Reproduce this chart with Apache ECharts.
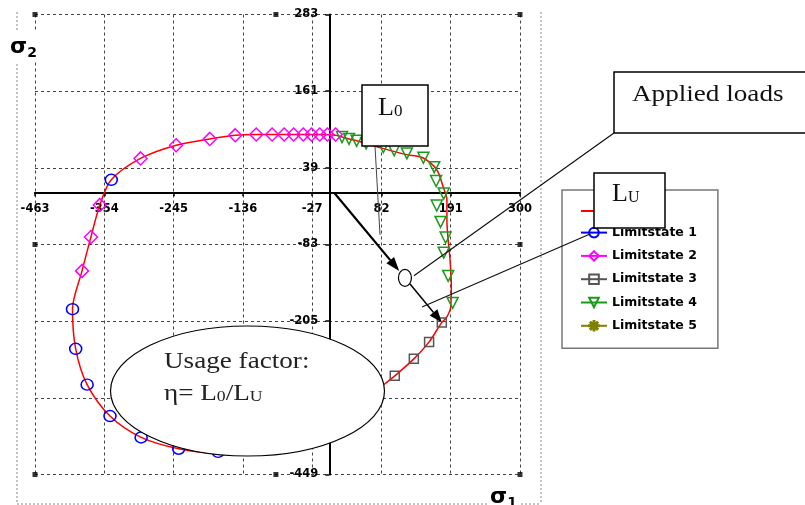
<!DOCTYPE html>
<html>
<head>
<meta charset="utf-8">
<script src="https://cdn.jsdelivr.net/npm/echarts@6/dist/echarts.min.js"></script>
<style>
html, body { margin: 0; padding: 0; background: #fff; }
#chart { width: 805px; height: 505px; }
</style>
</head>
<body>
<div id="chart"></div>
<script>
// axis ticks as printed on the original
var xTicks = [-463, -354, -245, -136, -27, 82, 191, 300];
var yTicks = [-449, -327, -205, -83, 39, 161, 283];

// red limit curve (hidden part under the ellipse estimated)
var curveX = [87, 103, 133, 157, 177, 185, 191, 192, 190, 187, 185, 185, 179, 169, 147, 122, 84, 57, 43, 31, 20, 10, -15, -56, -115, -148, -188, -241, -297, -343, -361, -375, -389, -404, -399, -381, -345, -296, -237, -175, -110, -40, 30, 87];
var curveY = [-305, -292, -265, -238, -207, -198, -182, -150, -108, -76, -44, -12, 9, 36, 55, 60, 70, 78, 82, 85, 88, 91, 92, 92, 92, 91, 85, 75, 54, 20, -20, -71, -125, -186, -249, -306, -356, -390, -408, -415, -410, -385, -345, -305];

// limit state points
var ls1X = [-343, -404, -399, -381, -345, -296, -237, -175];
var ls1Y = [20, -186, -249, -306, -356, -390, -408, -413];
var ls2X = [-361, -375, -389, -297, -241, -188, -148, -115, -90, -71, -56, -41, -28, -15, -3, 10];
var ls2Y = [-20, -71, -125, 54, 75, 85, 91, 92, 92, 92, 92, 92, 92, 92, 92, 92];
var ls3X = [103, 133, 157, 177];
var ls3Y = [-292, -265, -238, -207];
var ls4X = [20, 31, 43, 58, 85, 102, 122, 148, 165, 168, 180, 169, 175, 183, 180, 187, 194];
var ls4Y = [88, 85, 82, 78, 72, 67, 62, 55, 40, 18, -2, -21, -47, -72, -96, -133, -176];
var ls5X = [];
var ls5Y = [];

// little square marks on the plot frame
var frameX = [-463, 300, -463, 300, -463, 300, -84, -84];
var frameY = [283, 283, -449, -449, -83, -83, 283, -449];

// annotation anchors (data space)
var appliedLoad = [119, -136];
var limitPoint = [177, -207];
var loadStart = [8, -1];

var names = ['Limit curve', 'Limitstate 1', 'Limitstate 2', 'Limitstate 3', 'Limitstate 4', 'Limitstate 5'];

function pairs(xs, ys) {
  var out = [];
  for (var i = 0; i < xs.length; i++) out.push([xs[i], ys[i]]);
  return out;
}

var starPath = 'path://M-1,-10L1,-10L1,10L-1,10Z M-10,-1L10,-1L10,1L-10,1Z M-7.8,-6.4L-6.4,-7.8L7.8,6.4L6.4,7.8Z M6.4,-7.8L7.8,-6.4L-6.4,7.8L-7.8,6.4Z';

function markSeries(name, xs, ys, symbol, size, color, rotate) {
  return {
    name: name,
    type: 'line',
    data: pairs(xs, ys),
    symbol: symbol,
    symbolSize: size,
    symbolRotate: rotate || 0,
    color: color,
    lineStyle: { color: color, width: 1.5, opacity: 0 },
    itemStyle: { color: 'rgba(0,0,0,0)', borderColor: color, borderWidth: 1.5 },
    z: 3
  };
}

var chart = echarts.init(document.getElementById('chart'));

var gridBox = { left: 35, top: 14.5, width: 485, height: 460 };
var xMin = xTicks[0], xMax = xTicks[xTicks.length - 1];
var yMin = yTicks[0], yMax = yTicks[yTicks.length - 1];
// axes cross at the origin: shift them from the grid edges onto zero
var xAxisShift = -gridBox.height * (0 - yMin) / (yMax - yMin);
var yAxisShift = -gridBox.width * (0 - xMin) / (xMax - xMin);

var axisFont = { fontFamily: 'DejaVu Sans', fontWeight: 'bold', fontSize: 11.5, color: '#000' };
var gridLine = { show: true, lineStyle: { color: '#444', type: [3, 3], width: 1 } };

var option = {
  animation: false,
  backgroundColor: '#fff',
  grid: { left: gridBox.left, top: gridBox.top, width: gridBox.width, height: gridBox.height, containLabel: false },
  xAxis: {
    type: 'value',
    min: xMin, max: xMax,
    interval: xTicks[1] - xTicks[0],
    offset: xAxisShift,
    axisLine: { onZero: false, lineStyle: { color: '#000', width: 2 } },
    axisTick: { show: true, length: 4, lineStyle: { color: '#000', width: 1.5 } },
    axisLabel: Object.assign({ margin: 11 }, axisFont),
    splitLine: gridLine
  },
  yAxis: {
    type: 'value',
    min: yMin, max: yMax,
    interval: yTicks[1] - yTicks[0],
    offset: yAxisShift,
    axisLine: { onZero: false, lineStyle: { color: '#000', width: 2 } },
    axisTick: { show: true, length: 4, lineStyle: { color: '#000', width: 1.5 } },
    axisLabel: Object.assign({ margin: 11 }, axisFont),
    splitLine: gridLine
  },
  legend: {
    orient: 'vertical',
    left: 562, top: 190,
    padding: [15, 21, 16, 18],
    itemWidth: 26, itemHeight: 12, itemGap: 10.3,
    backgroundColor: '#fff',
    borderColor: '#777', borderWidth: 1.5,
    textStyle: { fontFamily: 'DejaVu Sans', fontWeight: 'bold', fontSize: 12.5, color: '#000' },
    formatter: function (n) { return n === names[0] ? '' : n; },
    data: names.map(function (n, i) {
      return i === 0 ? { name: n, itemStyle: { opacity: 0 } } : { name: n, lineStyle: { opacity: 1 } };
    })
  },
  series: [
    {
      name: names[0],
      type: 'line',
      data: pairs(curveX, curveY),
      smooth: 0.3,
      symbol: 'none',
      color: '#ff0000',
      lineStyle: { color: '#ff0000', width: 1.5 },
      z: 2
    },
    markSeries(names[1], ls1X, ls1Y, 'circle', [12, 11], '#0000ff'),
    markSeries(names[2], ls2X, ls2Y, 'diamond', 13, '#ff00ff'),
    markSeries(names[3], ls3X, ls3Y, 'rect', 9, '#555555'),
    markSeries(names[4], ls4X, ls4Y, 'triangle', 11, '#1a9a1a', 180),
    markSeries(names[5], ls5X, ls5Y, starPath, 12, '#808000'),
    {
      name: 'frame',
      type: 'scatter',
      data: pairs(frameX, frameY),
      symbol: 'rect',
      symbolSize: 5,
      itemStyle: { color: '#000' },
      silent: true,
      z: 4
    }
  ]
};
chart.setOption(option);

function px(v) { return chart.convertToPixel({ gridIndex: 0 }, v); }

function arrow(p0, p1, w, headLen, headW) {
  var dx = p1[0] - p0[0], dy = p1[1] - p0[1];
  var L = Math.sqrt(dx * dx + dy * dy);
  var ux = dx / L, uy = dy / L;
  var bx = p1[0] - ux * headLen, by = p1[1] - uy * headLen;
  return [
    { type: 'line', z: 100, shape: { x1: p0[0], y1: p0[1], x2: bx, y2: by }, style: { stroke: '#000', lineWidth: w } },
    { type: 'polygon', z: 100, shape: { points: [[p1[0], p1[1]], [bx - uy * headW / 2, by + ux * headW / 2], [bx + uy * headW / 2, by - ux * headW / 2]] }, style: { fill: '#000' } }
  ];
}

function along(a, b, d) {
  var dx = b[0] - a[0], dy = b[1] - a[1];
  var L = Math.sqrt(dx * dx + dy * dy);
  return [a[0] + dx / L * d, a[1] + dy / L * d];
}

var pLoad = px(appliedLoad);
var pLimit = px(limitPoint);
var pStart = px(loadStart);

var serif = 'Liberation Serif';
var g = [];

// outer dotted frame
g.push({ type: 'line', z: 90, shape: { x1: 17, y1: 12, x2: 17, y2: 504 }, style: { stroke: '#888', lineWidth: 1, lineDash: [2, 2] } });
g.push({ type: 'line', z: 90, shape: { x1: 541, y1: 12, x2: 541, y2: 504 }, style: { stroke: '#888', lineWidth: 1, lineDash: [2, 2] } });
g.push({ type: 'line', z: 90, shape: { x1: 17, y1: 504, x2: 541, y2: 504 }, style: { stroke: '#888', lineWidth: 1, lineDash: [2, 2] } });

// axis names
g.push({ type: 'text', z: 95, left: 8, top: 32, style: { text: '{s|σ}{n|2}', backgroundColor: '#fff', padding: [2, 2, 2, 2], rich: { s: { fontFamily: 'DejaVu Sans', fontWeight: 'bold', fontSize: 22, fill: '#000' }, n: { fontFamily: 'DejaVu Sans', fontWeight: 'bold', fontSize: 14, fill: '#000', padding: [12, 0, 0, 0] } } } });
g.push({ type: 'text', z: 95, left: 488, top: 484, style: { text: '{s|σ}{n|1}', backgroundColor: '#fff', padding: [0, 2, 0, 2], rich: { s: { fontFamily: 'DejaVu Sans', fontWeight: 'bold', fontSize: 22, fill: '#000' }, n: { fontFamily: 'DejaVu Sans', fontWeight: 'bold', fontSize: 14, fill: '#000', padding: [12, 0, 0, 0] } } } });

// arrows and leader lines
g = g.concat(arrow(pStart, along(pLoad, pStart, 9), 2.2, 14, 10));
g = g.concat(arrow(along(pLoad, pLimit, 8), pLimit, 1.5, 13, 10));
g.push({ type: 'line', z: 100, shape: { x1: 375, y1: 146, x2: 380, y2: 235 }, style: { stroke: '#444', lineWidth: 1 } });
g.push({ type: 'line', z: 100, shape: { x1: 614, y1: 133, x2: pLoad[0] + 9, y2: pLoad[1] - 2 }, style: { stroke: '#111', lineWidth: 1.2 } });
g.push({ type: 'line', z: 100, shape: { x1: 590, y1: 234, x2: 422, y2: 307 }, style: { stroke: '#111', lineWidth: 1.2 } });
g.push({ type: 'ellipse', z: 101, shape: { cx: pLoad[0], cy: pLoad[1], rx: 6.5, ry: 8.5 }, style: { fill: '#fff', stroke: '#000', lineWidth: 1.2 } });

// boxes
g.push({ type: 'rect', z: 102, shape: { x: 362, y: 85, width: 66, height: 61 }, style: { fill: '#fff', stroke: '#000', lineWidth: 1.5 } });
g.push({ type: 'text', z: 103, left: 378, top: 95, style: { text: '{a|L}{b|0}', rich: { a: { fontFamily: serif, fontSize: 26, fill: '#111' }, b: { fontFamily: serif, fontSize: 17, fill: '#111', padding: [8, 0, 0, 0] } } } });

g.push({ type: 'rect', z: 102, shape: { x: 614, y: 72, width: 200, height: 61 }, style: { fill: '#fff', stroke: '#000', lineWidth: 1.5 } });
g.push({ type: 'text', z: 103, left: 632, top: 83, scaleX: 1.18, style: { text: 'Applied loads', fontFamily: serif, fontSize: 23, fill: '#111' } });

g.push({ type: 'rect', z: 102, shape: { x: 594, y: 173, width: 71, height: 55 }, style: { fill: '#fff', stroke: '#000', lineWidth: 1.5 } });
g.push({ type: 'text', z: 103, left: 612, top: 181, style: { text: '{a|L}{b|U}', rich: { a: { fontFamily: serif, fontSize: 26, fill: '#111' }, b: { fontFamily: serif, fontSize: 16, fill: '#111', padding: [8, 0, 0, 0] } } } });

// usage factor ellipse
g.push({ type: 'ellipse', z: 104, shape: { cx: 247.5, cy: 391, rx: 137, ry: 65 }, style: { fill: '#fff', stroke: '#000', lineWidth: 1.2 } });
g.push({ type: 'text', z: 105, left: 164, top: 350, scaleX: 1.18, style: { text: 'Usage factor:', fontFamily: serif, fontSize: 23, fill: '#222' } });
g.push({ type: 'text', z: 105, left: 164, top: 382, scaleX: 1.18, style: { text: '{a|η= L}{b|0}{a|/L}{b|U}', rich: { a: { fontFamily: serif, fontSize: 23, fill: '#222' }, b: { fontFamily: serif, fontSize: 15, fill: '#222', padding: [7, 0, 0, 0] } } } });

chart.setOption({ graphic: g });
</script>
</body>
</html>
